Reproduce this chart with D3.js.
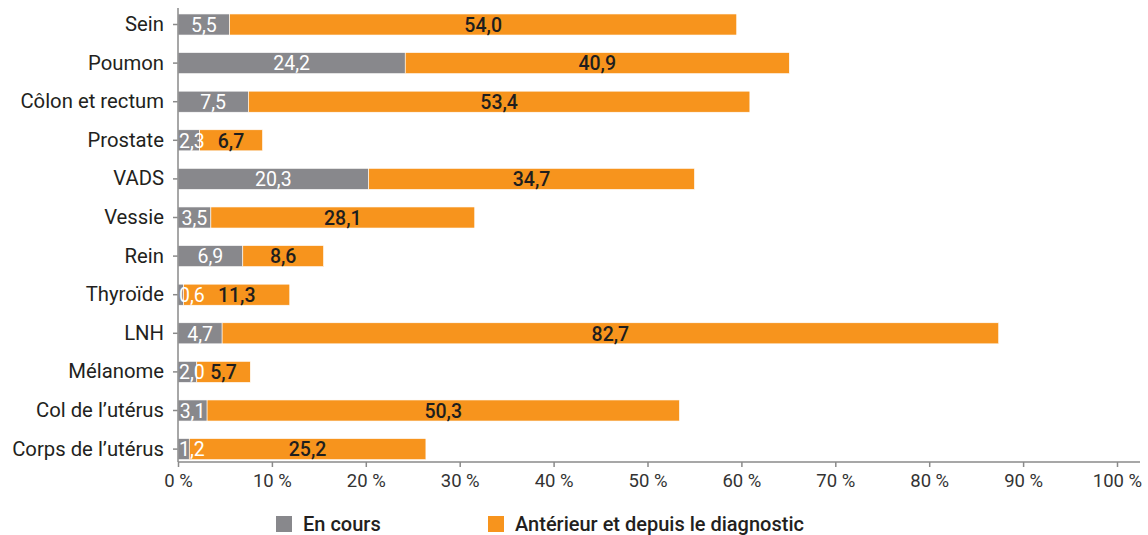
<!DOCTYPE html>
<html><head><meta charset="utf-8">
<script src="https://cdn.jsdelivr.net/npm/d3@7"></script>
<style>
html,body{margin:0;padding:0;background:#fff;}
svg{display:block;font-family:Roboto,"Noto Sans",sans-serif;}
</style></head>
<body>
<svg id="chart" width="1148" height="535"></svg>
<script>
const categories = ["Sein","Poumon","Côlon et rectum","Prostate","VADS","Vessie","Rein","Thyroïde","LNH","Mélanome","Col de l’utérus","Corps de l’utérus"];
const enCours = [5.5,24.2,7.5,2.3,20.3,3.5,6.9,0.6,4.7,2.0,3.1,1.2];
const anterieur = [54.0,40.9,53.4,6.7,34.7,28.1,8.6,11.3,82.7,5.7,50.3,25.2];
const xTicks = [0,10,20,30,40,50,60,70,80,90,100];
const seriesNames = ["En cours","Antérieur et depuis le diagnostic"];
const colors = ["#88888c","#f7941d"];

const svg = d3.select("#chart");
const x = d3.scaleLinear().domain([0,100]).range([178,1117]);
const y = d3.scaleBand().domain(categories).range([5.2,468.4]).paddingInner(0.455).paddingOuter(0.2275);
const fmt = v => v.toFixed(1).replace(".", ",");

// axes
const axisColor = "#8a8a8a";
const xAxis = svg.append("g").attr("transform","translate(0,462)")
  .call(d3.axisBottom(x).tickValues(xTicks).tickSize(5).tickSizeOuter(0).tickFormat(d => d + " %"));
xAxis.select(".domain").remove();
xAxis.selectAll(".tick line").attr("stroke",axisColor).attr("stroke-width",1.5);
xAxis.selectAll(".tick text").attr("fill","#333").attr("font-size","18.5px").attr("dy","0").attr("y",25)
  .attr("font-family","Roboto");
svg.append("line").attr("x1",178).attr("x2",1140).attr("y1",462).attr("y2",462).attr("stroke",axisColor).attr("stroke-width",1.5);

const yAxis = svg.append("g").attr("transform","translate(178,0)")
  .call(d3.axisLeft(y).tickSize(5).tickSizeOuter(0).tickPadding(9));
yAxis.select(".domain").remove();
yAxis.selectAll(".tick line").attr("stroke",axisColor).attr("stroke-width",1.5);
yAxis.selectAll(".tick text").attr("fill","#231f20").attr("font-size","20.3px").attr("font-family","Roboto");

// bars
const rows = categories.map((c,i)=>({c, a:enCours[i], b:anterieur[i]}));
const g = svg.append("g");
g.selectAll("rect.a").data(rows).join("rect").attr("class","a")
  .attr("x",x(0)).attr("y",d=>y(d.c)).attr("width",d=>x(d.a)-x(0)).attr("height",y.bandwidth())
  .attr("fill",colors[0]).attr("stroke","#fff").attr("stroke-width",0.6);
g.selectAll("rect.b").data(rows).join("rect").attr("class","b")
  .attr("x",d=>x(d.a)).attr("y",d=>y(d.c)).attr("width",d=>x(d.a+d.b)-x(d.a)).attr("height",y.bandwidth())
  .attr("fill",colors[1]).attr("stroke","#fff").attr("stroke-width",0.6);

svg.append("line").attr("x1",178).attr("x2",178).attr("y1",8).attr("y2",462).attr("stroke",axisColor).attr("stroke-width",1.5);

// value labels
const la = g.selectAll("text.la").data(rows).join("text").attr("class","la")
  .attr("y",d=>y(d.c)+y.bandwidth()/2).attr("dy","0.37em")
  .attr("text-anchor","middle").attr("fill","#fff").attr("font-size","19.5px").attr("font-family","Roboto")
  .text(d=>fmt(d.a));
la.each(function(d){
  const w = this.getComputedTextLength();
  const cx = (x(0)+x(d.a))/2;
  d3.select(this).attr("x", Math.max(cx, x(0)+1+w/2));
});
const lb = g.selectAll("text.lb").data(rows).join("text").attr("class","lb")
  .attr("y",d=>y(d.c)+y.bandwidth()/2).attr("dy","0.37em")
  .attr("text-anchor","middle").attr("fill","#1e1e1e").attr("font-size","19.5px").attr("font-weight",500).attr("font-family","Roboto")
  .attr("x",d=>(x(d.a)+x(d.a+d.b))/2)
  .text(d=>fmt(d.b));

// legend
const leg = svg.append("g");
const legX = [276, 488];
seriesNames.forEach((n,i)=>{
  leg.append("rect").attr("x",legX[i]).attr("y",516).attr("width",16).attr("height",16).attr("fill",colors[i]);
  leg.append("text").attr("x",legX[i]+27).attr("y",531).attr("font-size","20px").attr("font-weight",500)
    .attr("fill","#231f20").attr("font-family","Roboto").text(n);
});
</script>
</body></html>
